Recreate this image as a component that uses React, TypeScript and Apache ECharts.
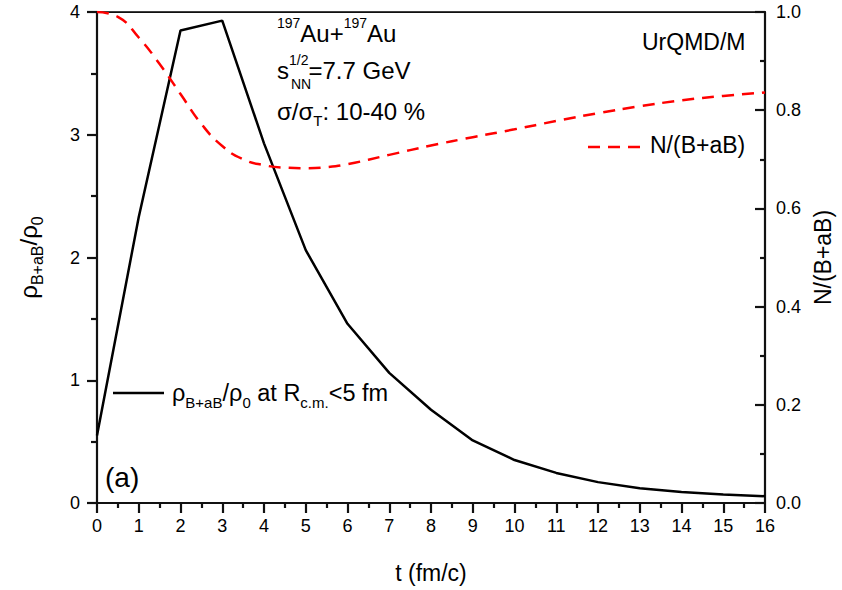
import React, { useEffect, useRef } from "react";
import * as echarts from "echarts";

const tValues = [0, 1, 2, 3, 4, 5, 6, 7, 8, 9, 10, 11, 12, 13, 14, 15, 16];
const rhoValues = [0.55, 2.33, 3.85, 3.93, 2.93, 2.06, 1.46, 1.06, 0.76, 0.51, 0.35, 0.245, 0.17, 0.12, 0.09, 0.07, 0.055];
const nTimes = [0, 0.5, 1, 1.5, 2, 2.5, 3, 3.5, 4, 4.5, 5, 5.5, 6, 7, 8, 9, 10, 11, 12, 13, 14, 15, 16];
const nValues = [1.0, 0.99, 0.948, 0.894, 0.833, 0.772, 0.727, 0.7, 0.688, 0.683, 0.682, 0.684, 0.69, 0.709, 0.728, 0.745, 0.761, 0.778, 0.794, 0.808, 0.82, 0.829, 0.836];

const FONT = "'Liberation Sans', Arial, sans-serif";
const AX = "#111111";

export default function App() {
  const ref = useRef<HTMLDivElement>(null);
  useEffect(() => {
    if (!ref.current) return;
    const chart = echarts.init(ref.current, undefined, { renderer: "svg" });
    const tick = { color: "#000", fontSize: 18, fontFamily: FONT };
    const big = { fontSize: 24, fontFamily: FONT, fontWeight: "normal", color: "#000", lineHeight: 34 };
    const sup = { fontSize: 14, fontFamily: FONT, fontWeight: "normal", color: "#000", verticalAlign: "top", lineHeight: 34 };
    const sub = { fontSize: 15, fontFamily: FONT, fontWeight: "normal", color: "#000", verticalAlign: "bottom", lineHeight: 34 };
    const ts = (extra: any) => ({ color: "#000", fontFamily: FONT, fontWeight: "normal", ...extra });
    const mkLine = (w: number) => ({ show: true, onZero: false, lineStyle: { color: AX, width: w } });
    const tk = (inside: boolean) => ({ show: true, inside, length: 10, lineStyle: { color: AX, width: 2.2 } });
    const mt = (len: number) => ({ show: true, splitNumber: 2, length: len, lineStyle: { color: AX, width: 2.2 } });
    chart.setOption({
      animation: false,
      title: [
        { text: "{p|197}{b|Au+}{p|197}{b|Au}", left: 277, top: 16, padding: 0, textStyle: ts({ rich: { p: sup, b: big } }) },
        { text: "{b|s}{v|1/2}{b|=7.7 GeV}", left: 277, top: 53, padding: 0, textStyle: ts({ rich: { b: big, v: sup } }) },
        { text: "NN", left: 291, top: 77, padding: 0, textStyle: ts({ fontSize: 14 }) },
        { text: "{b|σ/σ}{s|T}{b|: 10-40 %}", left: 277, top: 94, padding: 0, textStyle: ts({ rich: { b: big, s: sub } }) },
        { text: "UrQMD/M", left: 642, top: 30, padding: 0, textStyle: ts({ fontSize: 23 }) },
        { text: "(a)", left: 105, top: 463, padding: 0, textStyle: ts({ fontSize: 28 }) },
        {
          text: "{b|ρ}{s|B+aB}{b|/ρ}{s|0}{b| at R}{s|c.m.}{b|<5 fm}", left: 172, top: 376, padding: 0,
          textStyle: ts({ rich: { b: { ...big, fontSize: 23.5 }, s: sub } }),
        },
        { text: "N/(B+aB)", left: 650, top: 133, padding: 0, textStyle: ts({ fontSize: 23 }) },
      ],
      grid: {
        left: 97, right: 77, top: 12, bottom: 87, outerBoundsMode: "none",
        show: true, borderColor: "#000", borderWidth: 1.5, backgroundColor: "transparent",
      },
      xAxis: [
        {
          type: "value", min: 0, max: 16, interval: 1, position: "bottom",
          axisLine: mkLine(2.2), axisTick: tk(false), minorTick: mt(5),
          splitLine: { show: false },
          axisLabel: { ...tick, margin: 14 },
          name: "t (fm/c)", nameLocation: "middle", nameGap: 58,
          nameTextStyle: { color: "#000", fontSize: 23, fontFamily: FONT },
        },
        {
          type: "value", min: 0, max: 16, position: "top",
          axisLine: mkLine(1),
          axisTick: { show: false }, axisLabel: { show: false }, splitLine: { show: false },
        },
      ],
      yAxis: [
        {
          type: "value", min: 0, max: 4, interval: 1, position: "left",
          axisLine: mkLine(2.2), axisTick: tk(false), minorTick: mt(6),
          splitLine: { show: false },
          axisLabel: { ...tick, margin: 17 },
          name: "{b|ρ}{s|B+aB}{b|/ρ}{s|0}", nameLocation: "middle", nameGap: 52, nameRotate: 90,
          nameTextStyle: {
            color: "#000",
            rich: {
              b: { fontSize: 24, fontFamily: FONT, color: "#000", lineHeight: 34 },
              s: { fontSize: 16, fontFamily: FONT, color: "#000", verticalAlign: "bottom", lineHeight: 34 },
            },
          },
        },
        {
          type: "value", min: 0, max: 1, interval: 0.2, position: "right",
          axisLine: mkLine(2.2), axisTick: tk(true), minorTick: mt(5),
          splitLine: { show: false },
          axisLabel: { ...tick, margin: 11, formatter: (v: number) => v.toFixed(1) },
          name: "N/(B+aB)", nameLocation: "middle", nameGap: 45, nameRotate: 90,
          nameTextStyle: { color: "#000", fontSize: 23, fontFamily: FONT },
        },
      ],
      series: [
        {
          type: "line", xAxisIndex: 0, yAxisIndex: 0, showSymbol: false,
          data: tValues.map((t, i) => [t, rhoValues[i]]),
          lineStyle: { color: "#000", width: 2.5 },
        },
        {
          type: "line", xAxisIndex: 0, yAxisIndex: 1, showSymbol: false, smooth: true,
          data: nTimes.map((t, i) => [t, nValues[i]]),
          lineStyle: { color: "#ff0000", width: 2.5, type: [12, 8] },
        },
      ],
      graphic: [
        { type: "line", shape: { x1: 113, y1: 393, x2: 164, y2: 393 }, style: { stroke: "#000", lineWidth: 2.5 } },
        { type: "line", shape: { x1: 588, y1: 147, x2: 645, y2: 147 }, style: { stroke: "#ff0000", lineWidth: 2.5, lineDash: [12, 8] } },
      ],
    });
    return () => chart.dispose();
  }, []);
  return (
    <div style={{ position: "absolute", left: 0, top: 0, width: 842, height: 590 }}>
      <div ref={ref} style={{ width: 842, height: 590 }} />
    </div>
  );
}
